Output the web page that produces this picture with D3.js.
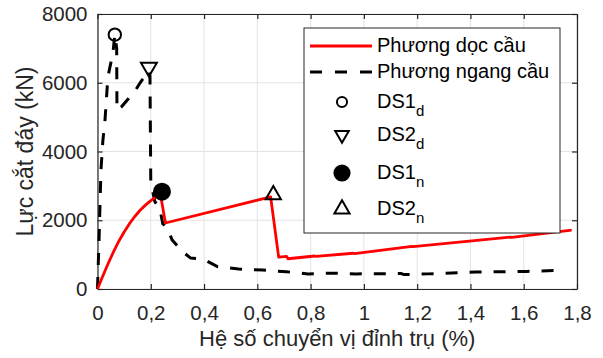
<!DOCTYPE html>
<html>
<head>
<meta charset="utf-8">
<script src="https://cdn.jsdelivr.net/npm/d3@7"></script>
<style>
  body { margin: 0; background: #fff; }
  svg { font-family: "Liberation Sans", Arial, sans-serif; }
</style>
</head>
<body>
<div id="chart"></div>
<script>
// data
const xTicks = [0, 0.2, 0.4, 0.6, 0.8, 1, 1.2, 1.4, 1.6, 1.8];
const yTicks = [0, 2000, 4000, 6000, 8000];

// Phương dọc cầu (red, solid)
const docX = [0, 0.02, 0.04, 0.06, 0.08, 0.1, 0.12, 0.14, 0.16, 0.18, 0.2, 0.22, 0.236,
  0.255, 0.65, 0.68, 0.71, 0.715, 0.815, 0.82, 0.96, 0.965, 1.18, 1.185, 1.55, 1.555, 1.78];
const docY = [0, 380, 740, 1080, 1390, 1660, 1900, 2110, 2290, 2440, 2570, 2680, 2770,
  1920, 2680, 930, 950, 880, 960, 950, 1040, 1030, 1240, 1230, 1510, 1500, 1710];

// Phương ngang cầu (black, dashed)
const ngangX = [0, 0.006, 0.013, 0.02, 0.028, 0.039, 0.058, 0.065, 0.072, 0.073, 0.09, 0.14, 0.16, 0.193,
  0.197, 0.2, 0.215, 0.235, 0.245, 0.26, 0.28, 0.32, 0.35, 0.4, 0.45, 0.53, 0.62, 0.71, 0.79, 0.88, 0.97,
  1.14, 1.15, 1.24, 1.33, 1.42, 1.52, 1.61, 1.73];
const ngangY = [0, 1500, 3460, 4300, 4900, 6170, 6870, 7400, 7000, 5200, 5300, 5750, 6000, 6350,
  6200, 3100, 2550, 2300, 1900, 1800, 1430, 1080, 900, 860, 650, 580, 550, 500, 440, 460, 440,
  450, 420, 440, 465, 495, 500, 510, 540];

// damage state markers
const markerNames = ["DS1", "DS2", "DS1", "DS2"];
const markerSubs = ["d", "d", "n", "n"];
const markerX = [0.065, 0.193, 0.242, 0.66];
const markerY = [7400, 6450, 2830, 2740];

const width = 603, height = 358;
const margin = { top: 14, right: 26, bottom: 69, left: 97.5 };
const ink = "#262626";

const svg = d3.select("#chart").append("svg")
  .attr("width", width).attr("height", height);

const x = d3.scaleLinear().domain([0, 1.8]).range([margin.left, width - margin.right]);
const y = d3.scaleLinear().domain([0, 8000]).range([height - margin.bottom, margin.top]);

const fmt = d => String(d).replace(".", ",");

// grid
svg.append("g").selectAll("line.gx").data(xTicks).enter().append("line")
  .attr("x1", d => x(d)).attr("x2", d => x(d))
  .attr("y1", y(0)).attr("y2", y(8000))
  .attr("stroke", "#e3e3e3").attr("stroke-width", 1);
svg.append("g").selectAll("line.gy").data(yTicks).enter().append("line")
  .attr("y1", d => y(d)).attr("y2", d => y(d))
  .attr("x1", x(0)).attr("x2", x(1.8))
  .attr("stroke", "#e3e3e3").attr("stroke-width", 1);

// axes (ticks inward, box on)
const tickFont = "20.5px";
const gx = svg.append("g").attr("transform", `translate(0,${y(0)})`)
  .call(d3.axisBottom(x).tickValues(xTicks).tickFormat(fmt).tickSizeInner(-5).tickSizeOuter(0).tickPadding(16));
const gy = svg.append("g").attr("transform", `translate(${x(0)},0)`)
  .call(d3.axisLeft(y).tickValues(yTicks).tickFormat(d => d).tickSizeInner(-5).tickSizeOuter(0).tickPadding(10));
const gxt = svg.append("g").attr("transform", `translate(0,${y(8000)})`)
  .call(d3.axisTop(x).tickValues(xTicks).tickFormat("").tickSizeInner(-5).tickSizeOuter(0));
const gyr = svg.append("g").attr("transform", `translate(${x(1.8)},0)`)
  .call(d3.axisRight(y).tickValues(yTicks).tickFormat("").tickSizeInner(-5).tickSizeOuter(0));
[gx, gy, gxt, gyr].forEach(g => {
  g.select(".domain").attr("stroke", ink).attr("stroke-width", 1.2);
  g.selectAll(".tick line").attr("stroke", ink).attr("stroke-width", 1.2);
  g.selectAll(".tick text").attr("fill", ink).style("font-size", tickFont)
    .style("font-family", "'Liberation Sans', Arial, sans-serif");
});

// lines
const line = d3.line().x(d => x(d[0])).y(d => y(d[1]));
const ngangData = ngangX.map((v, i) => [v, ngangY[i]]);
const docData = docX.map((v, i) => [v, docY[i]]);

svg.append("path").datum(ngangData).attr("d", line)
  .attr("fill", "none").attr("stroke", "#000").attr("stroke-width", 3)
  .attr("stroke-dasharray", "12,12");
svg.append("path").datum(docData).attr("d", line)
  .attr("fill", "none").attr("stroke", "#ff0000").attr("stroke-width", 2.8)
  .attr("stroke-linejoin", "round");

// marker styles
const symbols = [
  { type: d3.symbolCircle, size: 120, rot: 0, fill: "none" },
  { type: d3.symbolTriangle, size: 110, rot: 180, fill: "none" },
  { type: d3.symbolCircle, size: 200, rot: 0, fill: "#000" },
  { type: d3.symbolTriangle, size: 100, rot: 0, fill: "none" }
];

markerX.forEach((mx, i) => {
  const s = symbols[i];
  svg.append("path")
    .attr("d", d3.symbol().type(s.type).size(s.size)())
    .attr("transform", `translate(${x(mx)},${y(markerY[i])}) rotate(${s.rot})`)
    .attr("fill", s.fill).attr("stroke", "#000").attr("stroke-width", 2);
});

// axis titles
const labelFont = "22px";
svg.append("text")
  .attr("x", (x(0) + x(1.8)) / 2).attr("y", 346)
  .attr("text-anchor", "middle").attr("fill", ink).style("font-size", labelFont)
  .text("Hệ số chuyển vị đỉnh trụ (%)");
svg.append("text")
  .attr("transform", `translate(33,${(y(0) + y(8000)) / 2}) rotate(-90)`)
  .attr("text-anchor", "middle").attr("fill", ink).style("font-size", "23px")
  .text("Lực cắt đáy (kN)");

// legend
const legFont = "20px";
const lg = svg.append("g");
lg.append("rect").attr("x", 304).attr("y", 28).attr("width", 256).attr("height", 205)
  .attr("fill", "#fff").attr("stroke", ink).attr("stroke-width", 1);

lg.append("line").attr("x1", 310).attr("x2", 372).attr("y1", 46).attr("y2", 46)
  .attr("stroke", "#ff0000").attr("stroke-width", 2.8);
lg.append("text").attr("x", 377).attr("y", 52).attr("fill", "#000").style("font-size", legFont)
  .text("Phương dọc cầu");

lg.append("line").attr("x1", 310).attr("x2", 372).attr("y1", 72).attr("y2", 72)
  .attr("stroke", "#000").attr("stroke-width", 3).attr("stroke-dasharray", "12,13");
lg.append("text").attr("x", 377).attr("y", 78).attr("fill", "#000").style("font-size", legFont)
  .text("Phương ngang cầu");

const rowBase = [108, 141, 179, 215];
const legSizes = [80, 80, 180, 100];
markerNames.forEach((nm, i) => {
  const s = symbols[i];
  lg.append("path")
    .attr("d", d3.symbol().type(s.type).size(legSizes[i])())
    .attr("transform", `translate(342,${rowBase[i] - 6}) rotate(${s.rot})`)
    .attr("fill", s.fill).attr("stroke", "#000").attr("stroke-width", 2);
  const t = lg.append("text").attr("x", 377).attr("y", rowBase[i]).attr("fill", "#000")
    .style("font-size", legFont);
  t.append("tspan").text(nm);
  t.append("tspan").attr("dy", 8).style("font-size", "15px").text(markerSubs[i]);
});
</script>
</body>
</html>
